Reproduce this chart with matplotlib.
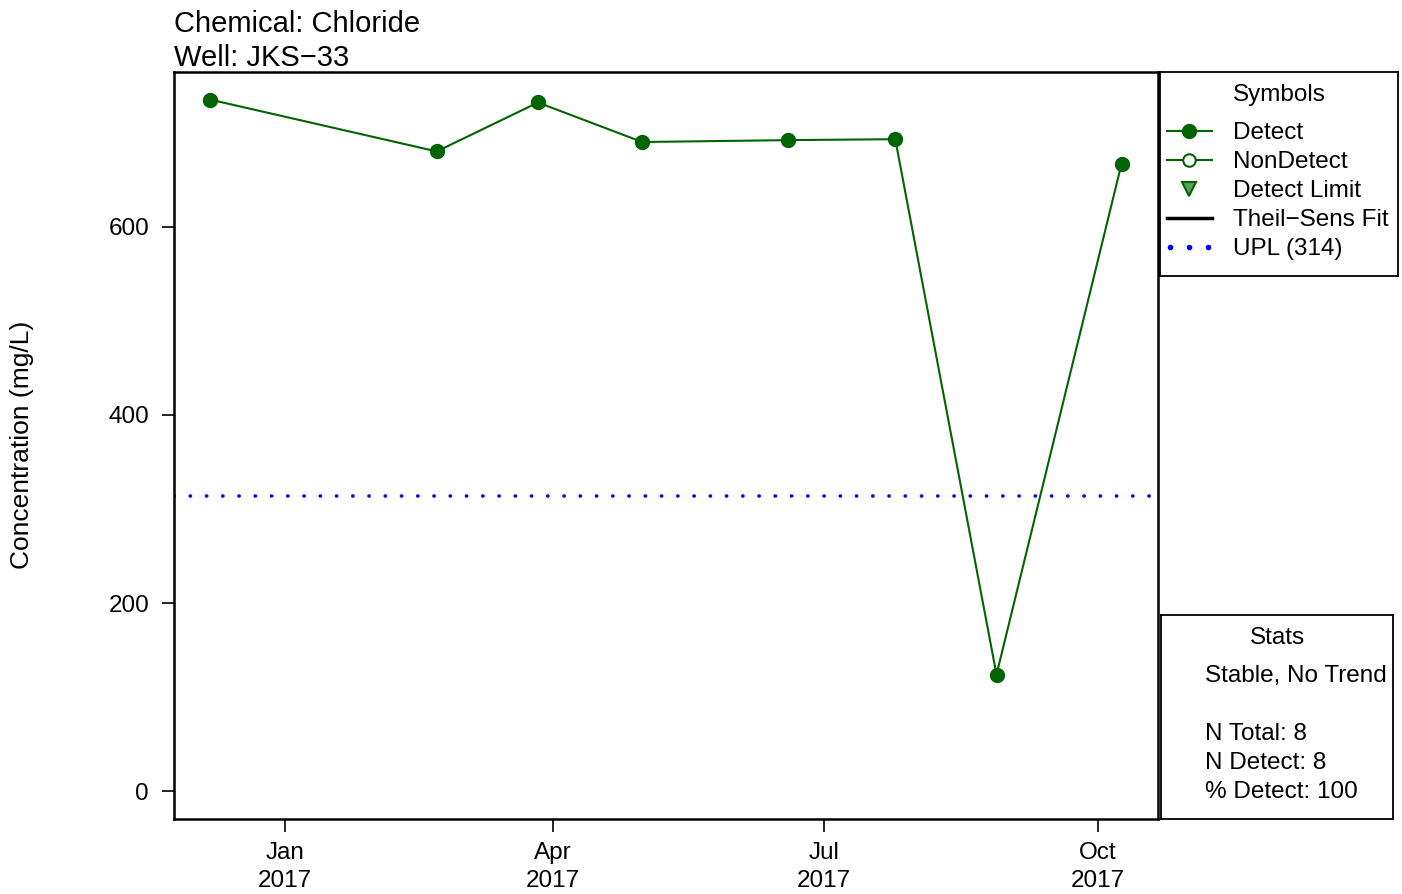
import numpy as np
import pandas as pd
import matplotlib
matplotlib.use("Agg")
import matplotlib.pyplot as plt
import matplotlib.dates as mdates
from matplotlib.lines import Line2D

plt.rcParams["font.family"] = ["Liberation Sans", "DejaVu Sans"]
plt.rcParams["font.size"] = 17.5

# sample data for well JKS-33
dates = pd.to_datetime(["2016-12-07", "2017-02-21", "2017-03-27", "2017-05-01",
                        "2017-06-19", "2017-07-25", "2017-08-28", "2017-10-09"])
chloride = [735, 680, 732, 690, 692, 693, 124, 667]
upl = 314
tick_dates = pd.to_datetime(["2017-01-01", "2017-04-01", "2017-07-01", "2017-10-01"])
tick_labels = ["Jan\n2017", "Apr\n2017", "Jul\n2017", "Oct\n2017"]

green = "#006400"
FS = 17.5
W, H = 1402, 894
fig = plt.figure(figsize=(W / 100, H / 100), dpi=100)


def fbox(x0, y0, x1, y1):
    # pixel box (top-left origin) -> figure fraction rect
    return [x0 / W, 1 - y1 / H, (x1 - x0) / W, (y1 - y0) / H]


ax = fig.add_axes(fbox(174, 72, 1158, 819))

# R-style 4% padding
xn = mdates.date2num(dates)
pad = (xn.max() - xn.min()) * 0.04
ax.set_xlim(xn.min() - pad, xn.max() + pad)
ymax = max(chloride)
ax.set_ylim(-0.04 * ymax, ymax * 1.04)

# dotted UPL line (tiny dashes + round caps -> dots)
ax.axhline(upl, color="blue", lw=2.6, linestyle=(0, (0.05, 4.45)),
           dash_capstyle="round", zorder=2)
ax.plot(dates, chloride, color=green, lw=1.5, marker="o", ms=10,
        markerfacecolor=green, markeredgecolor=green, zorder=3)

ax.set_yticks([0, 200, 400, 600])
ax.set_xticks(tick_dates)
ax.set_xticklabels(tick_labels, linespacing=1.38)
ax.tick_params(direction="out", length=9, width=1.2, labelsize=FS)
ax.tick_params(axis="x", pad=7.5)
ax.tick_params(axis="y", pad=9)
for s in ax.spines.values():
    s.set_linewidth(1.8)

fig.text(22 / W, 1 - 445 / H, "Concentration (mg/L)", rotation=90,
         ha="center", va="center", fontsize=19)
fig.text(174 / W, 1 - 24 / H, "Chemical: Chloride", ha="left", va="center", fontsize=21)
fig.text(174 / W, 1 - 58 / H, "Well: JKS\u221233", ha="left", va="center", fontsize=21)

# symbols legend
lg = fig.add_axes(fbox(1160, 72, 1398, 276))
lg.set_xlim(1160, 1398)
lg.set_ylim(276, 72)
lg.set_xticks([])
lg.set_yticks([])
for s in lg.spines.values():
    s.set_linewidth(1.3)
lg.text(1279, 95, "Symbols", ha="center", va="center", fontsize=FS)
rows = [131, 160, 189, 218, 247]
names = ["Detect", "NonDetect", "Detect Limit", "Theil\u2212Sens Fit", "UPL (314)"]
for y, name in zip(rows, names):
    lg.text(1233, y + 2, name, ha="left", va="center", fontsize=FS)
lg.add_line(Line2D([1167, 1212], [rows[0]] * 2, color=green, lw=1.5))
lg.plot([1189], [rows[0]], "o", ms=10, color=green)
lg.add_line(Line2D([1167, 1212], [rows[1]] * 2, color=green, lw=1.5))
lg.plot([1189], [rows[1]], "o", ms=9, markerfacecolor="white",
        markeredgecolor=green, markeredgewidth=1.5)
lg.plot([1189], [rows[2]], "v", ms=10, markerfacecolor="#5aa05a",
        markeredgecolor=green, markeredgewidth=1.5)
lg.add_line(Line2D([1167, 1212], [rows[3]] * 2, color="black", lw=2.5))
lg.plot([1170, 1189, 1208], [rows[4]] * 3, "o", ms=3, color="blue")

# stats box
st = fig.add_axes(fbox(1161, 615, 1393, 819))
st.set_xlim(1161, 1393)
st.set_ylim(819, 615)
st.set_xticks([])
st.set_yticks([])
for s in st.spines.values():
    s.set_linewidth(1.3)
st.text(1277, 638, "Stats", ha="center", va="center", fontsize=FS)
for y, t in zip([676, 734, 763, 792],
                ["Stable, No Trend", "N Total: 8", "N Detect: 8", "% Detect: 100"]):
    st.text(1205, y, t, ha="left", va="center", fontsize=FS)

fig.savefig("out.png", dpi=100)
